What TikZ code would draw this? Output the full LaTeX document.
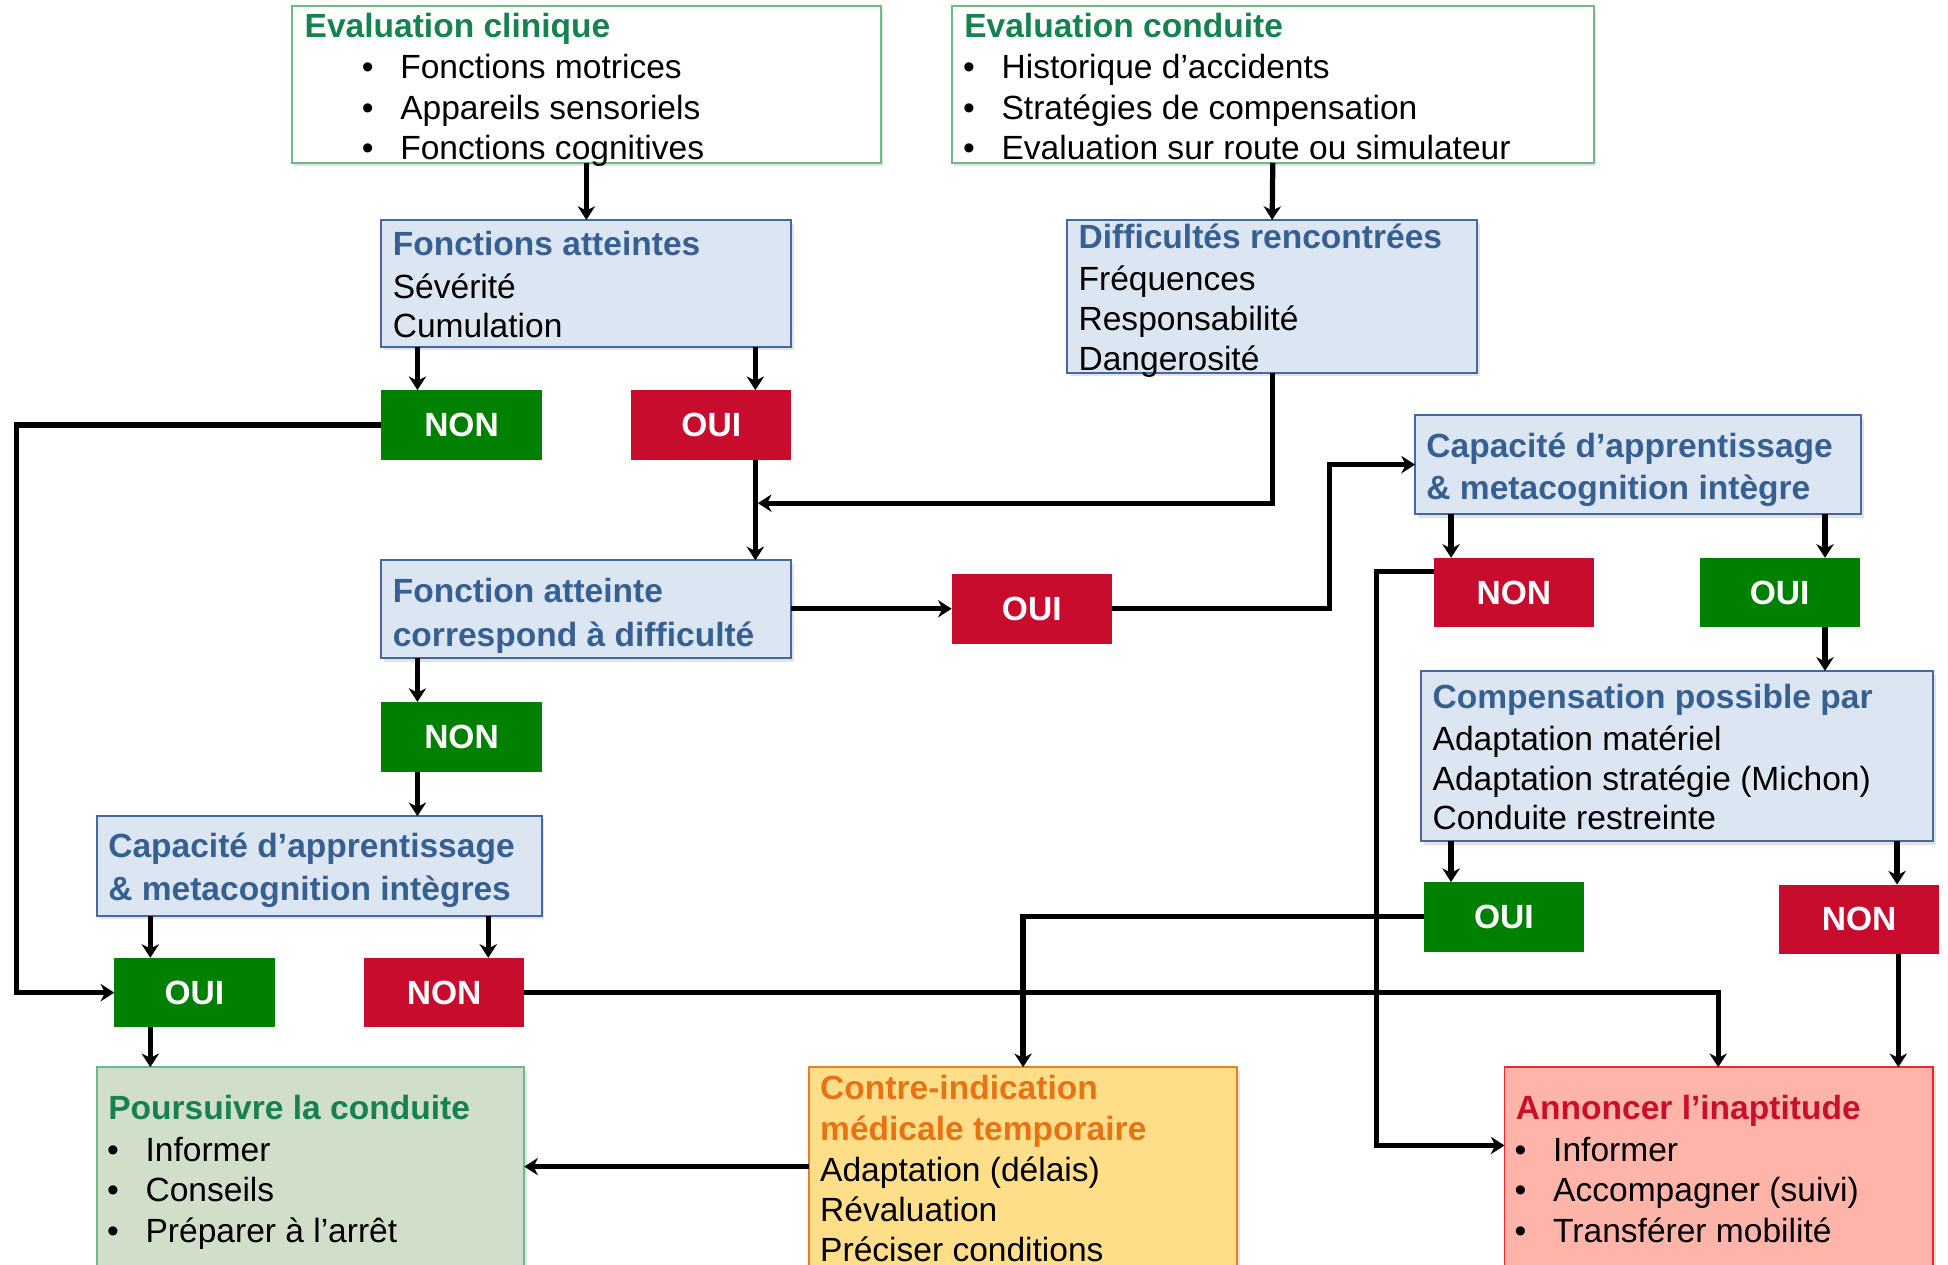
\documentclass[tikz,border=0pt]{standalone}
\usepackage{fontspec}
\setmainfont{Liberation Sans}
\usetikzlibrary{arrows.meta,shadows}
\definecolor{tgreen}{RGB}{22,130,80}
\definecolor{bgreen}{RGB}{110,185,135}
\definecolor{bblue}{RGB}{70,105,155}
\definecolor{fblue}{RGB}{220,230,242}
\definecolor{tblue}{RGB}{55,96,146}
\definecolor{btngreen}{RGB}{0,128,0}
\definecolor{btnred}{RGB}{200,12,46}
\definecolor{fpour}{RGB}{208,222,202}
\definecolor{fci}{RGB}{255,222,138}
\definecolor{bci}{RGB}{235,125,40}
\definecolor{tci}{RGB}{230,115,20}
\definecolor{fann}{RGB}{255,180,170}
\definecolor{bann}{RGB}{240,40,40}
\definecolor{tann}{RGB}{200,16,46}
\tikzset{
  box/.style={draw, line width=1.6pt, anchor=north west, inner sep=0pt, outer sep=0pt,
    drop shadow={shadow xshift=2pt, shadow yshift=-3pt, opacity=0.22}},
  topbox/.style={box, draw=bgreen, fill=white},
  bluebox/.style={box, draw=bblue, fill=fblue},
  pourbox/.style={box, draw=bgreen, fill=fpour},
  cibox/.style={box, draw=bci, fill=fci},
  annbox/.style={box, draw=bann, fill=fann},
  btn/.style={anchor=north west, inner sep=0pt, outer sep=0pt, minimum width=129pt, minimum height=56pt,
    text=white, font=\fontsize{27}{32.5}\selectfont\bfseries},
  gbtn/.style={btn, fill=btngreen},
  rbtn/.style={btn, fill=btnred},
  txt/.style={anchor=base west, inner sep=0pt, font=\fontsize{27}{32.5}\selectfont},
  ttl/.style={txt, font=\fontsize{27}{32.5}\selectfont\bfseries},
  arr/.style={line width=4.2pt, -{Stealth[length=11pt,width=14pt,inset=3.5pt]}}
}
\begin{document}
\begin{tikzpicture}[x=1pt,y=-1pt]
\path[use as bounding box] (0,0) rectangle (1568,1018);
\clip (0,0) rectangle (1568,1018);
\fill[white] (0,0) rectangle (1568,1018);

% boxes
\node[topbox, minimum width=474pt, minimum height=126pt] (ec) at (235,5) {};
\node[topbox, minimum width=517pt, minimum height=126pt] (ecd) at (766,5) {};
\node[bluebox, minimum width=330pt, minimum height=102pt] (fa) at (307,177) {};
\node[bluebox, minimum width=330pt, minimum height=123pt] (df) at (859,177) {};
\node[bluebox, minimum width=330pt, minimum height=79pt] (fc) at (307,451) {};
\node[bluebox, minimum width=359pt, minimum height=80pt] (cap1) at (1139,334) {};
\node[bluebox, minimum width=412pt, minimum height=137pt] (comp) at (1144,540) {};
\node[bluebox, minimum width=358pt, minimum height=80pt] (cap2) at (78,657) {};
\node[pourbox, minimum width=344pt, minimum height=180pt] (pour) at (78,859) {};
\node[cibox, minimum width=345pt, minimum height=180pt] (ci) at (651,859) {};
\node[annbox, minimum width=345pt, minimum height=180pt] (ann) at (1211,859) {};

% buttons
\node[gbtn] (non1) at (307,314) {NON};
\node[rbtn] (oui1) at (508,314) {OUI};
\node[rbtn] (oui2) at (766,462) {OUI};
\node[rbtn] (non3) at (1154,449) {NON};
\node[gbtn] (oui3) at (1368,449) {OUI};
\node[gbtn] (non2) at (307,565) {NON};
\node[gbtn] (oui4) at (1146,710) {OUI};
\node[rbtn] (non4) at (1432,712) {NON};
\node[gbtn] (oui5) at (92,771) {OUI};
\node[rbtn] (non5) at (293,771) {NON};

% texts: Evaluation clinique
\node[ttl, text=tgreen] (t1) at (245,30) {Evaluation clinique};
\node[txt] (b1a) at (291,63) {•};
\node[txt] (t1a) at (322,63) {Fonctions motrices};
\node[txt] (b1b) at (291,96) {•};
\node[txt] (t1b) at (322,96) {Appareils sensoriels};
\node[txt] (b1c) at (291,128) {•};
\node[txt] (t1c) at (322,128) {Fonctions cognitives};
% Evaluation conduite
\node[ttl, text=tgreen] (t2) at (776,30) {Evaluation conduite};
\node[txt] (b2a) at (775,63) {•};
\node[txt] (t2a) at (806,63) {Historique d’accidents};
\node[txt] (b2b) at (775,96) {•};
\node[txt] (t2b) at (806,96) {Stratégies de compensation};
\node[txt] (b2c) at (775,128) {•};
\node[txt] (t2c) at (806,128) {Evaluation sur route ou simulateur};
% Fonctions atteintes
\node[ttl, text=tblue] (t3) at (316,206) {Fonctions atteintes};
\node[txt] (t3a) at (316,240) {Sévérité};
\node[txt] (t3b) at (316,272) {Cumulation};
% Difficultes
\node[ttl, text=tblue] (t4) at (868,200) {Difficultés rencontrées};
\node[txt] (t4a) at (868,234) {Fréquences};
\node[txt] (t4b) at (868,266) {Responsabilité};
\node[txt] (t4c) at (868,298) {Dangerosité};
% Fonction atteinte correspond
\node[ttl, text=tblue] (t5) at (316,485) {Fonction atteinte};
\node[ttl, text=tblue] (t5a) at (316,520) {correspond à difficulté};
% Capacite 1
\node[ttl, text=tblue] (t6) at (1148,368) {Capacité d’apprentissage};
\node[ttl, text=tblue] (t6a) at (1148,402) {\& metacognition intègre};
% Compensation
\node[ttl, text=tblue] (t7) at (1153,570) {Compensation possible par};
\node[txt] (t7a) at (1153,604) {Adaptation matériel};
\node[txt] (t7b) at (1153,636) {Adaptation stratégie (Michon)};
\node[txt] (t7c) at (1153,668) {Conduite restreinte};
% Capacite 2
\node[ttl, text=tblue] (t8) at (87,690) {Capacité d’apprentissage};
\node[ttl, text=tblue] (t8a) at (87,725) {\& metacognition intègres};
% Poursuivre
\node[ttl, text=tgreen] (t9) at (87,901) {Poursuivre la conduite};
\node[txt] (b9a) at (86,935) {•};
\node[txt] (t9a) at (117,935) {Informer};
\node[txt] (b9b) at (86,967) {•};
\node[txt] (t9b) at (117,967) {Conseils};
\node[txt] (b9c) at (86,1000) {•};
\node[txt] (t9c) at (117,1000) {Préparer à l’arrêt};
% Contre-indication
\node[ttl, text=tci] (t10) at (660,885) {Contre-indication};
\node[ttl, text=tci] (t10a) at (660,918) {médicale temporaire};
\node[txt] (t10b) at (660,951) {Adaptation (délais)};
\node[txt] (t10c) at (660,983) {Révaluation};
\node[txt] (t10d) at (660,1015) {Préciser conditions};
% Annoncer
\node[ttl, text=tann] (t11) at (1220,901) {Annoncer l’inaptitude};
\node[txt] (b11a) at (1219,935) {•};
\node[txt] (t11a) at (1250,935) {Informer};
\node[txt] (b11b) at (1219,967) {•};
\node[txt] (t11b) at (1250,967) {Accompagner (suivi)};
\node[txt] (b11c) at (1219,1000) {•};
\node[txt] (t11c) at (1250,1000) {Transférer mobilité};

% junction coordinates
\coordinate (j1) at (610,405);
\coordinate (j2) at (1070,374);
\coordinate (k3) at (1108,922);
\coordinate (j4) at (13,342);

% connectors
\draw[arr] (ec.south) -- (fa.north);
\draw[arr] (ecd.south) -- (df.north);
\draw[arr] ([xshift=29pt]fa.south west) -- ([xshift=29pt]non1.north west);
\draw[arr] ([xshift=-29pt]fa.south east) -- ([xshift=-29pt]oui1.north east);
\draw[arr] ([xshift=-29pt]oui1.south east) -- ([xshift=-29pt]fc.north east);
\draw[arr] (df.south) |- (j1);
\draw[arr] (fc.east |- oui2.west) -- (oui2.west);
\draw[arr] (oui2.east) -| (j2) -- (cap1.west);
\draw[arr] ([xshift=29pt]cap1.south west) -- ([xshift=29pt]cap1.south west |- non3.north);
\draw[arr] ([xshift=-29pt]cap1.south east) -- ([xshift=-29pt]cap1.south east |- oui3.north);
\draw[arr] ([xshift=-28pt]oui3.south east) -- ([xshift=-28pt]oui3.south east |- comp.north);
\draw[arr] ([xshift=24pt]comp.south west) -- ([xshift=24pt]comp.south west |- oui4.north);
\draw[arr] ([xshift=-29pt]comp.south east) -- ([xshift=-29pt]comp.south east |- non4.north);
\draw[arr] ([xshift=-33pt]non4.south east) -- ([xshift=-33pt]non4.south east |- ann.north);
\draw[arr] (oui4.west) -| (ci.north);
\draw[arr] ([yshift=-11pt]non3.north west) -| (k3) -- ([yshift=-63pt]ann.north west);
\draw[arr] ([xshift=29pt]fc.south west) -- ([xshift=29pt]non2.north west);
\draw[arr] ([xshift=29pt]non2.south west) -- ([xshift=29pt]non2.south west |- cap2.north);
\draw[arr] ([xshift=43pt]cap2.south west) -- ([xshift=29pt]oui5.north west);
\draw[arr] ([xshift=-43pt]cap2.south east) -- ([xshift=-29pt]non5.north east);
\draw[arr] (non1.west) -- (j4) |- (oui5.west);
\draw[arr] ([xshift=29pt]oui5.south west) -- ([xshift=29pt]oui5.south west |- pour.north);
\draw[arr] (non5.east) -| ([xshift=172pt]ann.north west);
\draw[arr] ([yshift=-80pt]ci.north west) -- ([yshift=-80pt]pour.north east);
\end{tikzpicture}
\end{document}
